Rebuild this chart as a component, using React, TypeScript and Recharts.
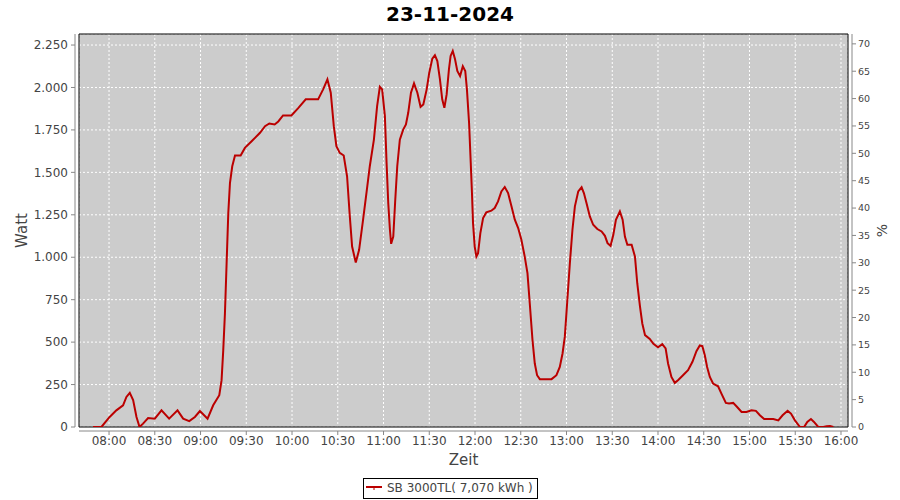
import { LineChart, Line, XAxis, YAxis, CartesianGrid, ReferenceArea, Legend } from 'recharts';

// minutes since midnight / watt
const minutes = [
  469.5, 475, 480.4, 484.8, 489.2, 491.4, 493.6, 495.8, 498, 500,
  502.3, 505.6, 510, 514.4, 519.4, 524.9, 528.6, 532.6, 536.3, 539.6,
  544.6, 548.3, 552.3, 553.8, 554.9, 556, 557.1, 558.2, 559.3, 560.8,
  562.6, 566.3, 569.1, 573.5, 579, 582.3, 585.1, 588.6, 591, 594.1,
  599.6, 603.9, 609, 617.1, 620.4, 623.2, 625.4, 627.4, 629.1, 631.3,
  633.9, 636.1, 637.9, 639.4, 641.8, 644, 646.6, 648.8, 651, 653.7,
  655.8, 657.6, 659.1, 660.9, 662, 663.1, 664.2, 665, 666.4, 667.7,
  669, 670.7, 672.9, 674.7, 676.2, 678, 680, 682.2, 684.3, 686.1,
  688.3, 690, 692, 693.7, 695.3, 697, 698.5, 699.9, 701.4, 702.9,
  704, 705.4, 706.9, 708.4, 710.2, 712, 713.6, 714.7, 716.1, 717.2,
  718, 718.7, 719.8, 720.9, 722, 723.5, 725.3, 727.4, 730.7, 732.9,
  735.1, 737.3, 739.5, 741.7, 743.9, 746.1, 748.3, 750.4, 752.6, 754.4,
  755.9, 757.7, 759.2, 760.7, 762.5, 770.2, 773.4, 775.6, 777.4, 778.9,
  780.4, 782.2, 783.9, 785.5, 787.7, 789.9, 791.4, 793.1, 795.3, 797.5,
  800.2, 803, 805.2, 806.9, 808.9, 810.7, 812.4, 815, 816.8, 818.3,
  819.9, 822.7, 824.9, 826.4, 828.2, 829.7, 831.5, 834.6, 837, 840,
  842.8, 845, 846.6, 848.8, 851, 853.1, 856.4, 859.7, 862.6, 865.2,
  867.4, 869.1, 870.7, 872.2, 874, 876.1, 879.4, 881.6, 884.5, 886.6,
  889.3, 891.9, 894.8, 898, 901.3, 904.2, 906.8, 909.6, 915.6, 918.9,
  921.7, 925, 927.2, 929.8, 933.1, 935.8, 937.9, 940.3, 942.3, 945.1,
  948.4, 950.6, 952.8, 955,
];

const watt = [
  0, 0, 59, 98, 128, 177, 201, 158, 59, 0,
  20, 53, 49, 98, 49, 98, 49, 35, 59, 94,
  49, 128, 187, 276, 453, 669, 965, 1260, 1437, 1536,
  1599, 1599, 1644, 1683, 1733, 1772, 1788, 1782, 1800, 1835,
  1835, 1877, 1930, 1930, 1989, 2048, 1969, 1772, 1654, 1615,
  1599, 1477, 1240, 1063, 969, 1044, 1221, 1378, 1536, 1693,
  1890, 2004, 1989, 1831, 1556, 1319, 1162, 1079, 1122, 1339,
  1536, 1693, 1752, 1782, 1851, 1969, 2024, 1969, 1886, 1900,
  1989, 2087, 2170, 2190, 2156, 2048, 1930, 1880, 1959, 2107,
  2186, 2215, 2166, 2097, 2067, 2125, 2097, 1989, 1792, 1556,
  1378, 1201, 1063, 1004, 1024, 1142, 1231, 1264, 1274, 1290,
  1329, 1388, 1414, 1378, 1300, 1221, 1172, 1103, 1004, 906,
  729, 512, 374, 305, 282, 282, 305, 354, 433, 532,
  729, 965, 1162, 1300, 1388, 1412, 1378, 1319, 1240, 1191,
  1166, 1152, 1126, 1083, 1067, 1132, 1221, 1270, 1221, 1122,
  1073, 1073, 1004, 847, 709, 610, 541, 519, 490, 470,
  488, 463, 374, 295, 260, 276, 305, 335, 384, 447,
  480, 476, 423, 354, 295, 256, 240, 197, 142, 138,
  142, 118, 89, 89, 98, 95, 69, 47, 47, 39,
  69, 95, 79, 39, 0, 0, 30, 47, 30, 0,
  0, 4, 6, 0,
];

const timeTicks = [480, 510, 540, 570, 600, 630, 660, 690, 720, 750, 780, 810, 840, 870, 900, 930, 960];
const wattTicks = [0, 250, 500, 750, 1000, 1250, 1500, 1750, 2000, 2250];
const percentTicks = [0, 5, 10, 15, 20, 25, 30, 35, 40, 45, 50, 55, 60, 65, 70];

const timeDomain = [460.3, 964.6];
const wattDomain = [0, 2315];
const percentDomain = [0, 71.8];

const seriesName = 'SB 3000TL( 7,070 kWh )';
const title = '23-11-2024';

const data = minutes.map((t, i) => ({ t, watt: watt[i] }));

const FONT = '"DejaVu Sans", Verdana, sans-serif';
const RED = '#bb0000';

const pad2 = (n: number) => String(n).padStart(2, '0');
const fmtTime = (m: number) => `${pad2(Math.floor(m / 60))}:${pad2(m % 60)}`;
const fmtWatt = (v: number) =>
  v >= 1000 ? `${Math.floor(v / 1000)}.${String(v % 1000).padStart(3, '0')}` : String(v);

const tickStyle = { fill: '#444', fontSize: 12, fontFamily: FONT };

function LegendBox() {
  return (
    <div
      style={{
        display: 'inline-flex',
        alignItems: 'center',
        border: '1px solid #000',
        background: '#fff',
        height: 19,
        padding: '0 4px 0 2px',
        fontFamily: FONT,
        fontSize: 12,
        color: '#444',
        whiteSpace: 'nowrap',
      }}
    >
      <svg width={16} height={8} style={{ marginRight: 5 }}>
        <line x1={0} y1={3} x2={16} y2={3} stroke={RED} strokeWidth={2} />
        <line x1={8} y1={3} x2={8} y2={6} stroke={RED} strokeWidth={1} />
      </svg>
      <span>{seriesName}</span>
    </div>
  );
}

export default function App() {
  return (
    <div style={{ position: 'absolute', left: 0, top: 0, width: 900, height: 500, background: '#fff', fontFamily: FONT }}>
      <div
        style={{
          position: 'absolute',
          top: 2,
          left: 0,
          width: 900,
          textAlign: 'center',
          fontWeight: 'bold',
          fontSize: 20,
          color: '#000',
          lineHeight: 'normal',
        }}
      >
        {title}
      </div>
      <LineChart width={900} height={500} data={data} margin={{ top: 34, right: 0, bottom: 0, left: 0 }}>
        <CartesianGrid
          yAxisId="left"
          fill="#cccccc"
          stroke="#ffffff"
          strokeDasharray="2 2"
          vertical
          horizontal
        />
        <XAxis
          dataKey="t"
          type="number"
          domain={timeDomain}
          allowDataOverflow
          ticks={timeTicks}
          interval={0}
          tickFormatter={fmtTime}
          height={73}
          tickSize={4}
          tickMargin={5}
          tick={tickStyle}
          axisLine={{ stroke: '#888', transform: 'translate(0,4)' }}
          tickLine={{ stroke: '#888', transform: 'translate(0,4)' }}
          label={{ value: 'Zeit', position: 'insideTop', offset: 27, fill: '#444', fontSize: 15, fontFamily: FONT }}
        />
        <YAxis
          yAxisId="left"
          type="number"
          domain={wattDomain}
          allowDataOverflow
          ticks={wattTicks}
          interval={0}
          tickFormatter={fmtWatt}
          width={79}
          tickSize={4}
          tickMargin={7}
          tick={tickStyle}
          axisLine={{ stroke: '#888', transform: 'translate(-4,0)' }}
          tickLine={{ stroke: '#888', transform: 'translate(-4,0)' }}
          label={{ value: 'Watt', angle: -90, position: 'insideLeft', offset: 22, fill: '#444', fontSize: 15, fontFamily: FONT, textAnchor: 'middle' }}
        />
        <YAxis
          yAxisId="right"
          orientation="right"
          type="number"
          domain={percentDomain}
          allowDataOverflow
          ticks={percentTicks}
          interval={0}
          width={52}
          tickSize={4}
          tickMargin={6}
          tick={{ ...tickStyle, fontSize: 9.5 }}
          axisLine={{ stroke: '#888', transform: 'translate(4,0)' }}
          tickLine={{ stroke: '#888', transform: 'translate(4,0)' }}
          label={{ value: '%', angle: -90, position: 'insideRight', offset: 18, fill: '#444', fontSize: 14, fontFamily: FONT, textAnchor: 'middle' }}
        />
        <Line
          yAxisId="left"
          type="linear"
          dataKey="watt"
          name={seriesName}
          stroke={RED}
          strokeWidth={2}
          dot={false}
          isAnimationActive={false}
        />
        <ReferenceArea
          yAxisId="left"
          x1={timeDomain[0]}
          x2={timeDomain[1]}
          y1={wattDomain[0]}
          y2={wattDomain[1]}
          fill="none"
          fillOpacity={0}
          stroke="#000"
          strokeWidth={1}
          ifOverflow="visible"
        />
        <Legend
          layout="horizontal"
          verticalAlign="middle"
          align="center"
          content={() => <LegendBox />}
          wrapperStyle={{ position: 'absolute', left: 363, top: 477, width: 'auto', height: 'auto' }}
        />
      </LineChart>
    </div>
  );
}
